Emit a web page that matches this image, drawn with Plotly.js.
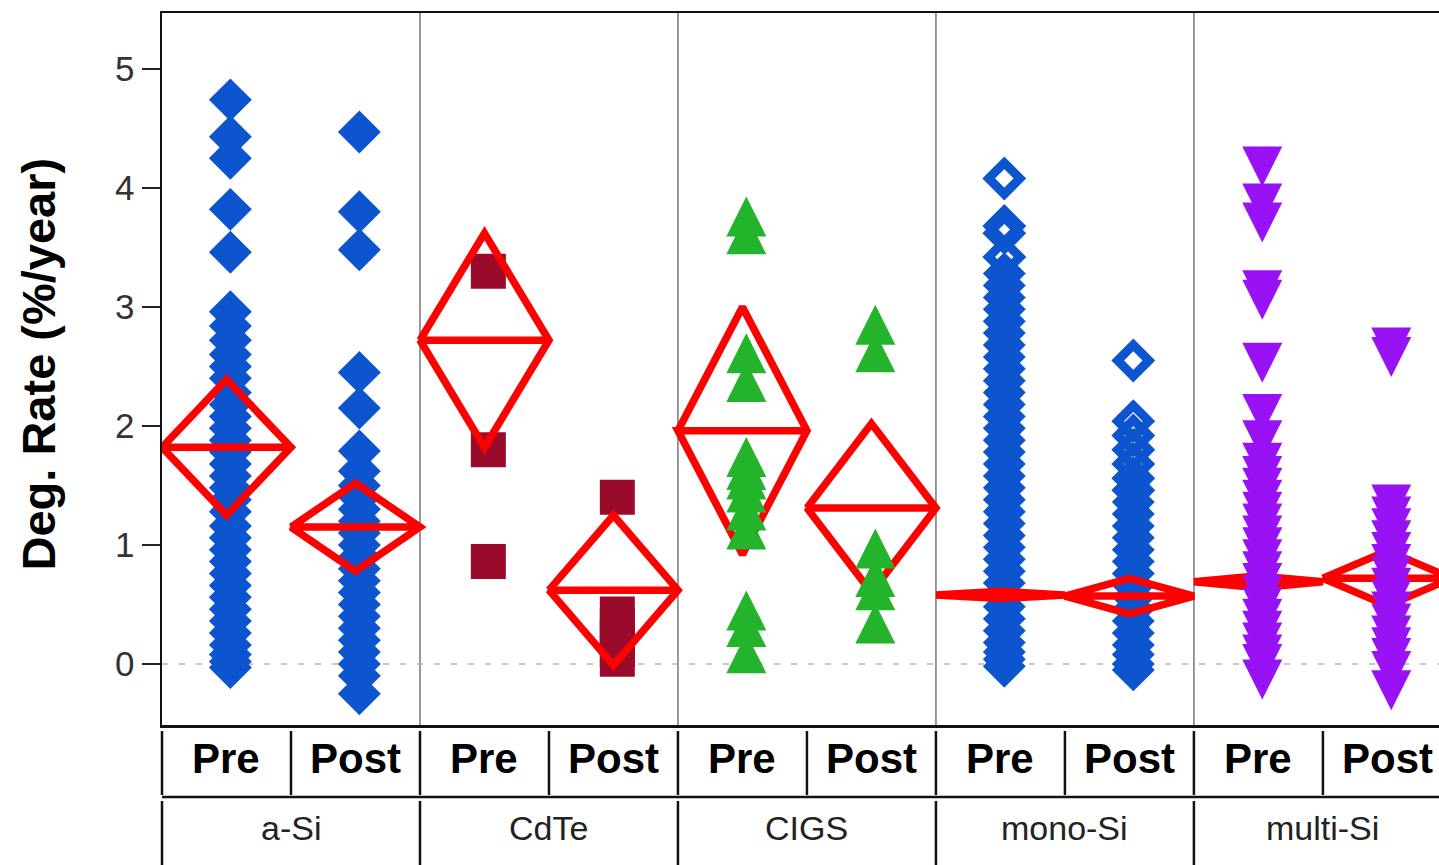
<!DOCTYPE html>
<html>
<head>
<meta charset="utf-8">
<script src="https://cdn.plot.ly/plotly-3.0.1.min.js"></script>
<style>
html,body{margin:0;padding:0;background:#fff;overflow:hidden}
#chart{width:1439px;height:865px}
</style>
</head>
<body>
<div id="chart"></div>
<script>
// ---------------- data ----------------
const categories = ['a-Si', 'CdTe', 'CIGS', 'mono-Si', 'multi-Si'];
const periods = ['Pre', 'Post'];
const yTicks = [0, 1, 2, 3, 4, 5];

const aSiPre = [4.74, 4.43, 4.25, 3.82, 3.46, 2.96, 2.84, 2.72, 2.60, 2.50, 2.40, 2.28, 2.18, 2.08, 1.98, 1.88, 1.78, 1.68, 1.58, 1.48, 1.38, 1.28, 1.16, 1.06, 0.96, 0.86, 0.76, 0.66, 0.56, 0.46, 0.36, 0.26, 0.16, 0.08, 0.02, -0.03];
const aSiPost = [4.47, 3.80, 3.48, 2.45, 2.15, 1.79, 1.62, 1.50, 1.40, 1.30, 1.20, 1.10, 1.00, 0.90, 0.80, 0.70, 0.60, 0.50, 0.40, 0.30, 0.20, 0.10, 0.00, -0.10, -0.25];
const cdtePre = [3.30, 1.80, 0.86];
const cdtePost = [1.40, 0.42, 0.32, 0.22, 0.12, 0.04];
const cigsPre = [3.76, 3.61, 2.61, 2.37, 1.74, 1.63, 1.55, 1.44, 1.29, 1.13, 0.45, 0.31, 0.09];
const cigsPost = [2.85, 2.62, 0.97, 0.73, 0.62, 0.34];
const monoPreOpen = [4.08, 3.68, 3.62, 3.42];
const monoPre = [3.28, 3.18, 3.08, 2.98, 2.88, 2.78, 2.68, 2.58, 2.48, 2.38, 2.28, 2.18, 2.08, 1.98, 1.88, 1.78, 1.68, 1.58, 1.48, 1.38, 1.28, 1.18, 1.08, 0.98, 0.88, 0.78, 0.68, 0.58, 0.48, 0.38, 0.28, 0.18, 0.10, 0.04, -0.02];
const monoPostOpen = [2.55, 2.04, 1.92, 1.80, 1.68, 1.56, 1.46];
const monoPost = [1.36, 1.26, 1.16, 1.06, 0.96, 0.86, 0.76, 0.66, 0.56, 0.46, 0.36, 0.26, 0.16, 0.08, 0.00, -0.05];
const multiPre = [4.18, 3.87, 3.71, 3.14, 3.06, 2.53, 2.10, 1.88, 1.69, 1.58, 1.48, 1.38, 1.28, 1.18, 1.08, 0.98, 0.88, 0.78, 0.68, 0.58, 0.48, 0.38, 0.28, 0.18, 0.08, 0.00, -0.13];
const multiPost = [2.66, 2.58, 1.34, 1.24, 1.14, 1.04, 0.94, 0.84, 0.74, 0.64, 0.54, 0.44, 0.34, 0.24, 0.14, 0.05, -0.06, -0.22];

// mean diamonds, one per (technology, period) slot in order
const meanRate = [1.82, 1.15, 2.72, 0.62, 1.96, 1.31, 0.58, 0.57, 0.69, 0.72];
const upperCI  = [2.39, 1.52, 3.62, 1.25, 3.00, 2.02, 0.61, 0.72, 0.74, 0.95];
const lowerCI  = [1.25, 0.78, 1.82, -0.01, 0.92, 0.60, 0.55, 0.42, 0.64, 0.49];

// ---------------- styling ----------------
const FONT = 'Liberation Sans, Arial, sans-serif';
const BLUE = '#0d55cf', DARKRED = '#9a0a2a', GREEN = '#24b42c', PURPLE = '#9912f5', RED = '#ff0000';
const yMin = -0.513, yMax = 5.47;
const plotH = 865 - 13 - 140;
const arrowShift = 20 / (plotH / (yMax - yMin)); // half marker height in data units
const xMax = 9.9;
const ptOffset = 0.53;

function pts(slot, vals, marker, yaxis) {
  return {
    type: 'scatter', mode: 'markers',
    x: vals.map(() => slot + ptOffset), y: vals,
    yaxis: yaxis || 'y',
    marker: marker, hoverinfo: 'skip'
  };
}
const solidDiamond = {symbol: 'diamond', size: 33, color: BLUE, line: {width: 0}};
const openDiamond = {symbol: 'diamond-open', size: 24, color: BLUE, line: {width: 9, color: BLUE}};
const square = {symbol: 'square', size: 35, color: DARKRED, line: {width: 0}};
const upTri = {symbol: 'arrow-up', size: 40, color: GREEN, line: {width: 0}};
const downTri = {symbol: 'arrow-down', size: 40, color: PURPLE, line: {width: 0}};

const traces = [
  pts(0, aSiPre, solidDiamond),
  pts(1, aSiPost, solidDiamond),
  pts(2, cdtePre, square),
  pts(3, cdtePost, square),
  pts(4, cigsPre, upTri, 'y2'),
  pts(5, cigsPost, upTri, 'y2'),
  pts(6, monoPre, solidDiamond),
  pts(6, monoPreOpen, openDiamond),
  pts(7, monoPost, solidDiamond),
  pts(7, monoPostOpen, openDiamond),
  pts(8, multiPre, downTri, 'y3'),
  pts(9, multiPost, downTri, 'y3')
];

meanRate.forEach((m, i) => {
  traces.push({
    type: 'scatter', mode: 'lines',
    x: [i, i + 0.5, i + 1, i + 0.5, i, i + 1],
    y: [m, upperCI[i], m, lowerCI[i], m, m],
    line: {color: RED, width: 7.5},
    hoverinfo: 'skip'
  });
});

// ---------------- shapes & labels ----------------
const toPaperY = px => (725 - px) / plotH;
const shapes = [];
shapes.push({type: 'line', xref: 'x', yref: 'y', x0: 0, x1: xMax, y0: 0, y1: 0, layer: 'below',
  line: {color: '#b4b4b4', width: 1.5, dash: '6px,11px'}});
[2, 4, 6, 8].forEach(u => shapes.push({type: 'line', xref: 'x', yref: 'paper', x0: u, x1: u, y0: 0, y1: 1,
  layer: 'below', line: {color: '#777', width: 1.5}}));
// table
shapes.push({type: 'line', xref: 'paper', yref: 'paper', x0: 0, x1: 1, y0: toPaperY(797), y1: toPaperY(797),
  line: {color: '#111', width: 2.5}});
for (let u = 0; u < 10; u++) {
  shapes.push({type: 'line', xref: 'paper', yref: 'paper', x0: u / xMax, x1: u / xMax,
    y0: toPaperY(731), y1: toPaperY(795), line: {color: '#111', width: 2.5}});
}
for (let u = 0; u < 10; u += 2) {
  shapes.push({type: 'line', xref: 'paper', yref: 'paper', x0: u / xMax, x1: u / xMax,
    y0: toPaperY(801), y1: toPaperY(870), line: {color: '#111', width: 2.5}});
}

const annotations = [];
categories.forEach((c, k) => {
  periods.forEach((p, j) => {
    annotations.push({xref: 'x', yref: 'paper', x: 2 * k + j + 0.5, y: toPaperY(758),
      xanchor: 'center', yanchor: 'middle', showarrow: false, text: '<b>' + p + '</b>',
      font: {family: FONT, size: 42, color: '#000'}});
  });
  annotations.push({xref: 'x', yref: 'paper', x: 2 * k + 1, y: toPaperY(828),
    xanchor: 'center', yanchor: 'middle', showarrow: false, text: c,
    font: {family: FONT, size: 34, color: '#222'}});
});
annotations.push({xref: 'paper', yref: 'paper', x: (38.5 - 162) / 1277, y: toPaperY(364),
  xanchor: 'center', yanchor: 'middle', showarrow: false, textangle: -90,
  text: '<b>Deg. Rate (%/year)</b>', font: {family: FONT, size: 47, color: '#000'}});

const layout = {
  width: 1439, height: 865,
  margin: {l: 162, r: 0, t: 13, b: 140, pad: 0},
  paper_bgcolor: '#fff', plot_bgcolor: '#fff', showlegend: false,
  xaxis: {range: [0, xMax], showgrid: false, zeroline: false, showticklabels: false, ticks: '',
    showline: true, mirror: true, linecolor: '#111', linewidth: 2.5, fixedrange: true},
  yaxis: {range: [yMin, yMax], tickvals: yTicks, ticktext: yTicks.map(String), ticks: 'outside',
    ticklen: 18, tickwidth: 2, tickcolor: '#222', showline: true, linecolor: '#111', linewidth: 2.5,
    showgrid: false, zeroline: false, tickfont: {family: FONT, size: 35, color: '#333'}, fixedrange: true},
  yaxis2: {overlaying: 'y', anchor: 'x', range: [yMin - arrowShift, yMax - arrowShift], visible: false, fixedrange: true},
  yaxis3: {overlaying: 'y', anchor: 'x', range: [yMin + arrowShift, yMax + arrowShift], visible: false, fixedrange: true},
  shapes: shapes,
  annotations: annotations
};

Plotly.newPlot('chart', traces, layout, {staticPlot: true, displayModeBar: false});
</script>
</body>
</html>
